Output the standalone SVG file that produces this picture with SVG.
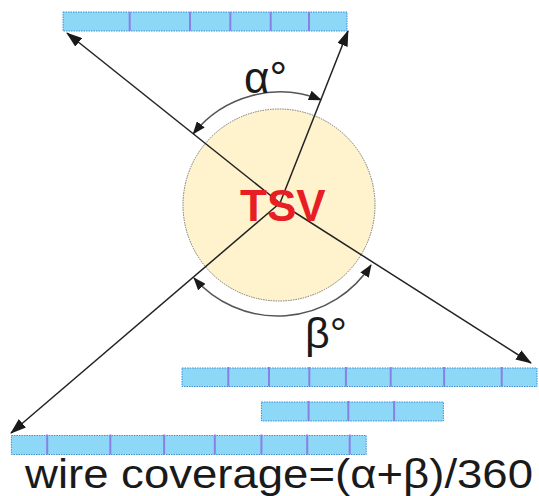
<svg xmlns="http://www.w3.org/2000/svg" width="539" height="496" viewBox="0 0 539 496">
<style>
.bar{fill:#8dd7f7;stroke:#3f8fd0;stroke-width:1;stroke-dasharray:1.5 1}
.div{stroke:#8a7fe4;stroke-width:2}
.ln{stroke:#222;stroke-width:1.5;fill:none}
.arc{stroke:#555;stroke-width:1.5;fill:none}
.lbl{font-family:"Liberation Sans",Arial,sans-serif;fill:#1a1a1a}
</style>
<defs>
<marker id="ah" markerUnits="userSpaceOnUse" viewBox="0 0 16 11" refX="15" refY="5.5" markerWidth="16" markerHeight="11" orient="auto">
<path d="M0,0 L16,5.5 L0,11 Z" fill="#1a1a1a"/>
</marker>
<marker id="ah2" markerUnits="userSpaceOnUse" viewBox="0 0 13 10" refX="12" refY="5" markerWidth="13" markerHeight="10" orient="auto-start-reverse">
<path d="M0,0 L13,5 L0,10 Z" fill="#1a1a1a"/>
</marker>
</defs>
<rect width="539" height="496" fill="#fff"/>
<g id="tsv">
<circle cx="279" cy="205" r="96" fill="#fef3cd" stroke="#777" stroke-width="1" stroke-dasharray="1.5 1"/>
</g>
<g id="connectors">
<line class="ln" x1="280" y1="203" x2="67" y2="33" marker-end="url(#ah)"/>
<line class="ln" x1="280" y1="203" x2="348" y2="31" marker-end="url(#ah)"/>
<line class="ln" x1="280" y1="203" x2="531" y2="363" marker-end="url(#ah)"/>
<line class="ln" x1="280" y1="203" x2="11" y2="433" marker-end="url(#ah)"/>
<path class="arc" d="M193.3,133.7 A111,111 0 0 1 320.9,99.8" marker-start="url(#ah2)" marker-end="url(#ah2)"/>
<path class="arc" d="M371,265 A111,111 0 0 1 194,278" marker-start="url(#ah2)" marker-end="url(#ah2)"/>
</g>
<g id="tsv-label">
<text x="240" y="221" font-family="Liberation Sans,Arial,sans-serif" font-weight="bold" font-size="44" fill="#e81e25">TSV</text>
</g>
<g id="wire-top">
<rect class="bar" x="63" y="12" width="284" height="19"/>
<line class="div" x1="129.7" y1="12" x2="129.7" y2="31"/>
<line class="div" x1="190" y1="12" x2="190" y2="31"/>
<line class="div" x1="230.3" y1="12" x2="230.3" y2="31"/>
<line class="div" x1="270.7" y1="12" x2="270.7" y2="31"/>
<line class="div" x1="309" y1="12" x2="309" y2="31"/>
</g>
<g id="wire-1">
<rect class="bar" x="182" y="368" width="355" height="18.5"/>
<line class="div" x1="228.3" y1="367" x2="228.3" y2="386.5"/>
<line class="div" x1="269" y1="367" x2="269" y2="386.5"/>
<line class="div" x1="309.3" y1="367" x2="309.3" y2="386.5"/>
<line class="div" x1="345.9" y1="367" x2="345.9" y2="386.5"/>
<line class="div" x1="390.7" y1="367" x2="390.7" y2="386.5"/>
<line class="div" x1="444.1" y1="367" x2="444.1" y2="386.5"/>
<line class="div" x1="501.7" y1="367" x2="501.7" y2="386.5"/>
</g>
<g id="wire-2">
<rect class="bar" x="261.4" y="402" width="182" height="19"/>
<line class="div" x1="308.6" y1="401" x2="308.6" y2="421"/>
<line class="div" x1="348.3" y1="401" x2="348.3" y2="421"/>
<line class="div" x1="394.1" y1="401" x2="394.1" y2="421"/>
</g>
<g id="wire-3">
<rect class="bar" x="11.4" y="435.5" width="354.8" height="19"/>
<line class="div" x1="47.2" y1="434.5" x2="47.2" y2="454.5"/>
<line class="div" x1="110.3" y1="434.5" x2="110.3" y2="454.5"/>
<line class="div" x1="164.1" y1="434.5" x2="164.1" y2="454.5"/>
<line class="div" x1="214.8" y1="434.5" x2="214.8" y2="454.5"/>
<line class="div" x1="261.4" y1="434.5" x2="261.4" y2="454.5"/>
<line class="div" x1="307.2" y1="434.5" x2="307.2" y2="454.5"/>
<line class="div" x1="349.7" y1="434.5" x2="349.7" y2="454.5"/>
</g>
<g id="labels">
<text class="lbl" x="244" y="92.5" font-size="44">α°</text>
<text class="lbl" x="305" y="348" font-size="43">β°</text>
<text class="lbl" x="25" y="487.5" font-size="41" textLength="508" lengthAdjust="spacingAndGlyphs">wire coverage=(α+β)/360</text>
</g>
</svg>
